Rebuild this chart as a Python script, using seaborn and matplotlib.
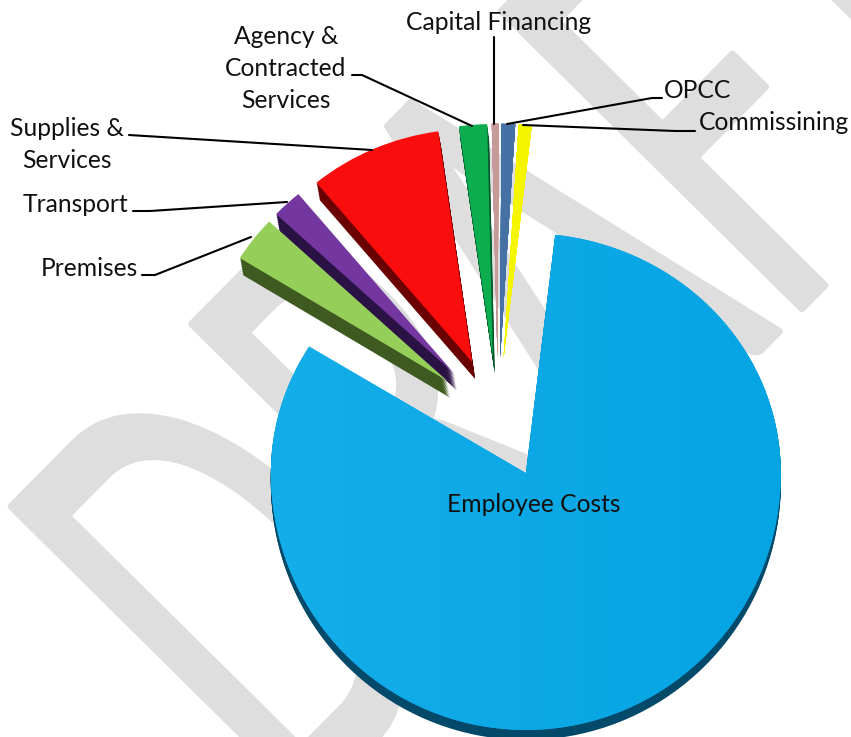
# Budget split pie with a DRAFT watermark
import seaborn as sns
import matplotlib
matplotlib.use("Agg")
import matplotlib.pyplot as plt
import matplotlib.patheffects as pe
from matplotlib.colors import LinearSegmentedColormap
from matplotlib.transforms import Affine2D
import numpy as np

categories = ['Employee Costs', 'Commissining', 'OPCC', 'Capital Financing',
              'Agency & Contracted Services', 'Supplies & Services', 'Transport', 'Premises']
shares = [82.0, 0.85, 0.9, 0.45, 1.85, 8.8, 2.0, 3.15]
top_colors = ['#0aa7e6', '#f5f500', '#4671a5', '#c79a9a', '#0bad4f', '#fa0d0d', '#7437a0', '#95cf5a']
side_colors = ['#03496a', '#f5f500', '#4671a5', '#c79a9a', '#06592a', '#6b0000', '#2b1245', '#3e5a20']

W, H = 851, 737
SQUISH = 0.955  # pie is a little flatter than a circle


def sy(py):
    # picture row to data y
    return (H - py) / SQUISH


class NarrowStroke(pe.Stroke):
    # squeezes the glyphs sideways before the rotation, watermark is a condensed face
    def __init__(self, narrow, **kwargs):
        super().__init__(**kwargs)
        self.narrow = narrow

    def draw_path(self, renderer, gc, tpath, affine, rgbFace):
        super().draw_path(renderer, gc, tpath, Affine2D().scale(self.narrow, 1) + affine, rgbFace)


def flatten_big_slice(w):
    # big slice sits nearer the viewer, so its far rim is flatter than the near one
    w.set_radius(255)
    v = w.get_path().vertices
    cy = w.center[1]
    up = v[:, 1] > cy
    v[up, 1] = cy + (v[up, 1] - cy) * 0.985
    v[~up, 1] = cy + (v[~up, 1] - cy) * 1.055


sns.set_theme(style='white')
plt.rcParams['font.family'] = ['Lato', 'DejaVu Sans']

fig = plt.figure(figsize=(W / 100, H / 100), dpi=100)
ax = fig.add_axes([0, 0, 1, 1])

ax.text(290, sy(826), 'DRAFT', fontsize=425, rotation=45.3, rotation_mode='anchor',
        ha='left', va='baseline', color='#dedede', zorder=0,
        path_effects=[NarrowStroke(0.572, linewidth=5, foreground='#dedede', joinstyle='round')])

centre = (498, sy(418))
explode = [64] * len(shares)  # pie takes this in data units
depth = [(0, 10), (0, 0), (0, 0), (0, 0), (2, 17), (3, 17), (3, 17), (3, 17)]

# extrude the side faces by stacking shifted copies, deepest first
for frac in np.linspace(1, 0.1, 10):
    side, _ = ax.pie(shares, colors=side_colors, startangle=148.2, radius=244, center=centre,
                     explode=explode, wedgeprops=dict(linewidth=0))
    for w, (dx, dy) in zip(side, depth):
        cx, cy = w.center
        w.set_center((cx + dx * frac, cy - dy * frac / SQUISH))
    flatten_big_slice(side[0])

top, _ = ax.pie(shares, colors=top_colors, startangle=148.2, radius=244, center=centre,
                explode=explode, wedgeprops=dict(linewidth=0))
flatten_big_slice(top[0])

# employee slice has a soft left to right gradient
grad = LinearSegmentedColormap.from_list('blue', ['#14aeea', '#05a4e3'])
im = ax.imshow(np.linspace(0, 1, 256).reshape(1, -1), cmap=grad, aspect='auto',
               extent=(270, 782, sy(737), sy(230)), zorder=top[0].get_zorder() + 0.1)
im.set_clip_path(top[0])

ax.set_aspect('auto')
ax.axis('off')

label_size = 17.7
label_style = dict(fontsize=label_size, ha='center', va='center', color='#111111', zorder=6)
ax.text(534, sy(504), categories[0], **label_style)
ax.text(499, sy(23), categories[3], **label_style)
ax.text(286, sy(36), 'Agency &', **label_style)
ax.text(286, sy(68), 'Contracted', **label_style)
ax.text(286, sy(101), 'Services', **label_style)
ax.text(67, sy(128), 'Supplies &', **label_style)
ax.text(67, sy(160), 'Services', **label_style)
ax.text(75, sy(204), categories[6], **label_style)
ax.text(89, sy(268), categories[7], **label_style)
ax.text(698, sy(91), categories[2], **label_style)
ax.text(774, sy(123), categories[1], **label_style)

# leader lines
leaders = [
    [(494, 37), (494, 124)],
    [(352, 75), (362, 75), (472, 126)],
    [(129, 135), (372, 150)],
    [(133, 211), (150, 211), (287, 202)],
    [(142, 275), (155, 275), (251, 237)],
    [(662, 98), (652, 98), (507, 124)],
    [(695, 131), (675, 131), (523, 125)],
]
for pts in leaders:
    xs = [p[0] for p in pts]
    ys = [sy(p[1]) for p in pts]
    ax.plot(xs, ys, color='black', lw=1.5, zorder=5)

ax.set_xlim(0, W)
ax.set_ylim(0, H / SQUISH)

plt.savefig('out.png', dpi=100, facecolor='white')
